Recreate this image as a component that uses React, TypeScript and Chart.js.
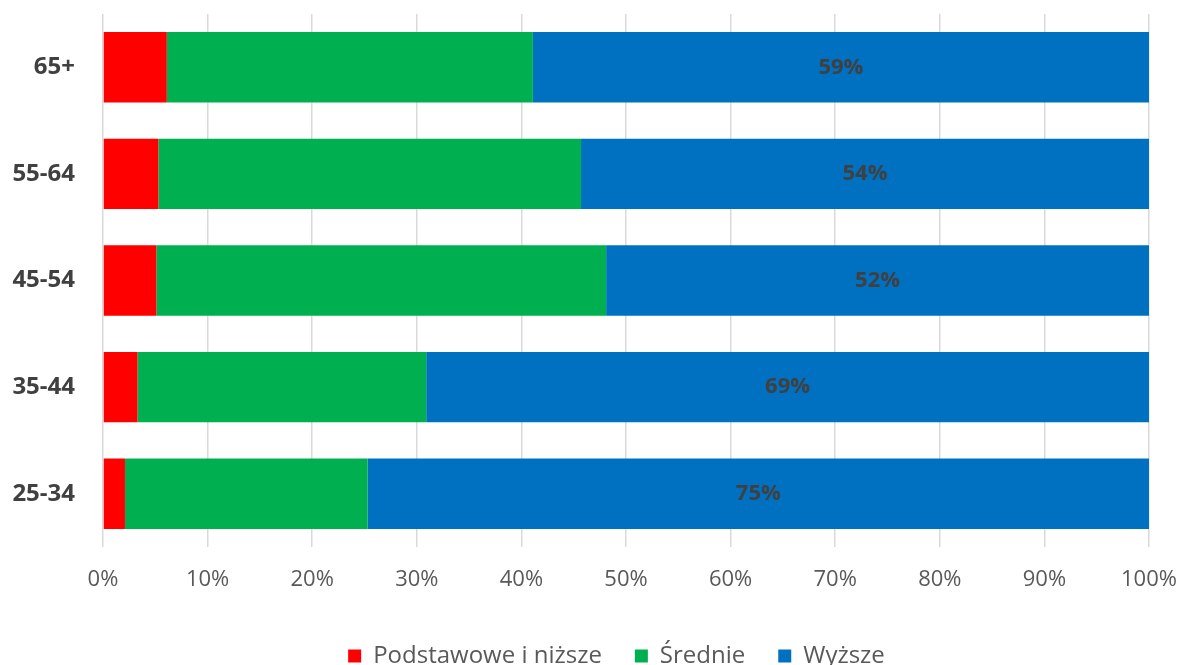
import React, { useEffect, useRef } from "react";
import { Chart, registerables } from "chart.js";

Chart.register(...registerables);

const categories = ["65+", "55-64", "45-54", "35-44", "25-34"];
const podstawowe = [6.1, 5.3, 5.1, 3.3, 2.1];
const srednie = [35.0, 40.4, 43.0, 27.6, 23.2];
const wyzsze = [58.9, 54.3, 51.9, 69.1, 74.7];
const xTicks = [0, 10, 20, 30, 40, 50, 60, 70, 80, 90, 100];

const FONT = "'Open Sans', 'DejaVu Sans', sans-serif";

const labelPlugin = {
  id: "blueLabels",
  afterLayout(chart: any) {
    const lg = chart.legend;
    if (lg) {
      lg.left += 42;
      lg.right += 42;
    }
  },
  afterDatasetsDraw(chart: any) {
    const ctx = chart.ctx;
    const meta = chart.getDatasetMeta(2);
    ctx.save();
    ctx.font = `bold 22px ${FONT}`;
    ctx.fillStyle = "#404040";
    ctx.textAlign = "center";
    ctx.textBaseline = "middle";
    meta.data.forEach((el: any, i: number) => {
      const { x, base, y } = el.getProps(["x", "base", "y"], true);
      ctx.fillText(`${Math.round(wyzsze[i])}%`, (x + base) / 2, y);
    });
    ctx.restore();
  },
};

export default function App() {
  const ref = useRef<HTMLCanvasElement | null>(null);
  useEffect(() => {
    document.body.style.margin = "0";
    const chart = new Chart(ref.current!, {
      type: "bar",
      data: {
        labels: categories,
        datasets: [
          { label: "Podstawowe i niższe", data: podstawowe, backgroundColor: "#FF0000" },
          { label: "Średnie", data: srednie, backgroundColor: "#00B050" },
          { label: "Wyższe", data: wyzsze, backgroundColor: "#0070C0" },
        ],
      },
      options: {
        indexAxis: "y",
        responsive: false,
        animation: false,
        maintainAspectRatio: false,
        layout: { padding: { top: 14, right: 31, left: 0, bottom: -13 } },
        datasets: { bar: { barPercentage: 0.66, categoryPercentage: 1 } },
        scales: {
          x: {
            stacked: true,
            min: 0,
            max: 100,
            afterBuildTicks: (scale: any) => {
              scale.ticks = xTicks.map((v) => ({ value: v }));
            },
            afterFit: (scale: any) => {
              scale.height = 64;
              scale.paddingLeft = 0;
              scale.paddingRight = 0;
            },
            ticks: {
              callback: (v: any) => `${v}%`,
              color: "#595959",
              font: { family: FONT, size: 22 },
              padding: 20,
              maxRotation: 0,
            },
            grid: { color: "#D9D9D9", lineWidth: 1.5, drawTicks: false, tickLength: 0 },
            border: { display: false },
          },
          y: {
            stacked: true,
            afterFit: (scale: any) => {
              scale.width = 103;
              scale.paddingTop = 0;
              scale.paddingBottom = 0;
            },
            ticks: {
              color: "#404040",
              font: { family: FONT, size: 24, weight: "bold" },
              padding: 20,
            },
            grid: { display: false },
            border: { display: false },
          },
        },
        plugins: {
          legend: {
            position: "bottom",
            labels: {
              boxWidth: 13,
              boxHeight: 13,
              color: "#595959",
              font: { family: FONT, size: 24 },
              padding: 33,
            },
          },
          tooltip: { enabled: false },
        },
      },
      plugins: [labelPlugin],
    } as any);
    return () => chart.destroy();
  }, []);
  return (
    <div style={{ width: 1180, height: 665 }}>
      <canvas ref={ref} width={1180} height={665} style={{ display: "block" }} />
    </div>
  );
}
